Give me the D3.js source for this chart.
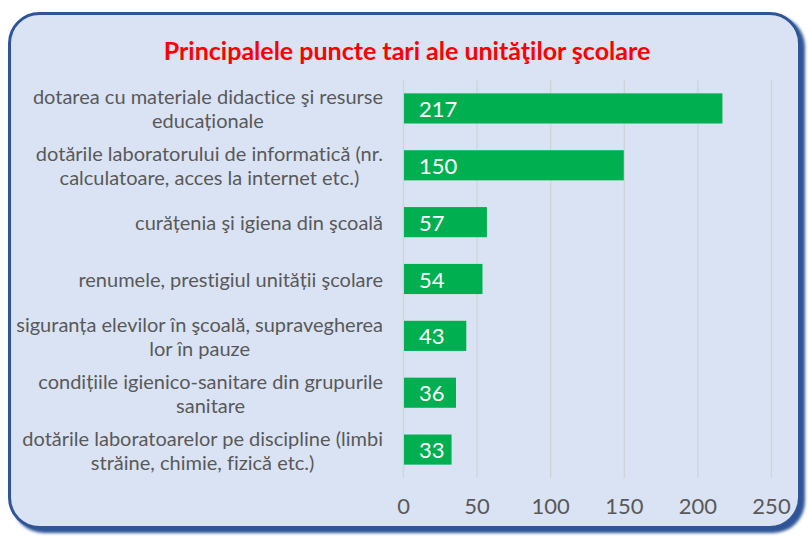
<!DOCTYPE html>
<html>
<head>
<meta charset="utf-8">
<script src="https://cdn.jsdelivr.net/npm/d3@7"></script>
<style>
  html, body { margin: 0; padding: 0; background: #ffffff; }
  svg { display: block; }
  text { font-family: Lato, "Open Sans", sans-serif; font-variant-ligatures: none; }
</style>
</head>
<body>
<svg id="chart" width="810" height="537"></svg>
<script>
// Chart data
const title = "Principalele puncte tari ale unităţilor şcolare";
const categories = [
  "dotarea cu materiale didactice şi resurse educaționale",
  "dotările laboratorului de informatică (nr. calculatoare, acces la internet etc.)",
  "curățenia şi igiena din şcoală",
  "renumele, prestigiul unității şcolare",
  "siguranța elevilor în şcoală, supravegherea lor în pauze",
  "condițiile igienico-sanitare din grupurile sanitare",
  "dotările laboratoarelor pe discipline (limbi străine, chimie, fizică etc.)"
];
const values = [217, 150, 57, 54, 43, 36, 33];
const xTicks = [0, 50, 100, 150, 200, 250];

const svg = d3.select("#chart");

// Panel with rounded corners and a soft dark-blue drop shadow
const defs = svg.append("defs");
const blur = defs.append("filter").attr("id", "shadow")
  .attr("x", "-5%").attr("y", "-5%").attr("width", "110%").attr("height", "110%");
blur.append("feGaussianBlur").attr("stdDeviation", 1.5);

svg.append("rect")
  .attr("x", 12).attr("y", 15).attr("width", 793).attr("height", 518)
  .attr("rx", 32).attr("ry", 32)
  .attr("fill", "#2f5597").attr("filter", "url(#shadow)");
svg.append("rect")
  .attr("x", 9.5).attr("y", 13.5).attr("width", 790).attr("height", 514)
  .attr("rx", 30).attr("ry", 30)
  .attr("fill", "#dae3f3").attr("stroke", "#2f5597").attr("stroke-width", 3);

// Title
svg.append("text")
  .attr("x", 407).attr("y", 50)
  .attr("text-anchor", "middle").attr("dominant-baseline", "central")
  .attr("fill", "#ff0000").attr("font-weight", "bold").attr("font-size", 25)
  .text(title);

// Scales
const x = d3.scaleLinear().domain([0, 250]).range([403, 771]);
const y = d3.scaleBand().domain(categories).range([80, 478]).paddingInner(0.47).paddingOuter(0.235);

// Vertical gridlines
svg.append("g").selectAll("line").data(xTicks).join("line")
  .attr("x1", d => x(d) + 0.5).attr("x2", d => x(d) + 0.5)
  .attr("y1", 80).attr("y2", 478)
  .attr("stroke", "#d0d3d8").attr("stroke-width", 1.3);

// X axis tick labels
const xAxis = d3.axisBottom(x).tickValues(xTicks).tickSize(0).tickPadding(0);
const gx = svg.append("g").attr("transform", "translate(0,498)").call(xAxis);
gx.select(".domain").remove();
gx.selectAll("text")
  .attr("font-family", "Lato, 'Open Sans', sans-serif")
  .attr("font-size", 22).attr("fill", "#595959");

// Bars
svg.append("g").selectAll("rect").data(values).join("rect")
  .attr("x", x(0) + 1)
  .attr("y", (d, i) => y(categories[i]))
  .attr("width", d => x(d) - x(0) - 1)
  .attr("height", y.bandwidth())
  .attr("fill", "#00b050");

// Value labels inside bars
svg.append("g").selectAll("text").data(values).join("text")
  .attr("x", x(0) + 16)
  .attr("y", (d, i) => y(categories[i]) + y.bandwidth() / 2)
  .attr("dominant-baseline", "central")
  .attr("fill", "#ffffff").attr("font-size", 22)
  .text(d => d);

// Category labels, wrapped and centred within a right-aligned block
const labelRight = 383, maxWidth = 372, lineH = 24, labelSize = 20;
const measure = svg.append("text").attr("font-size", labelSize).attr("visibility", "hidden");
function width(s) { measure.text(s); return measure.node().getComputedTextLength(); }
function wrap(s) {
  const words = s.split(" ");
  const lines = [];
  let cur = "";
  words.forEach(w => {
    const t = cur ? cur + " " + w : w;
    if (cur && width(t) > maxWidth) { lines.push(cur); cur = w; } else { cur = t; }
  });
  lines.push(cur);
  return lines;
}
const gl = svg.append("g");
categories.forEach(c => {
  const lines = wrap(c);
  const w = d3.max(lines, width);
  const cx = labelRight - w / 2;
  const cy = y(c) + y.bandwidth() / 2;
  const t = gl.append("text")
    .attr("text-anchor", "middle").attr("font-size", labelSize).attr("fill", "#595959");
  lines.forEach((l, k) => {
    t.append("tspan").attr("x", cx)
      .attr("y", cy + (k - (lines.length - 1) / 2) * lineH)
      .attr("dominant-baseline", "central")
      .text(l);
  });
});
measure.remove();
</script>
</body>
</html>
